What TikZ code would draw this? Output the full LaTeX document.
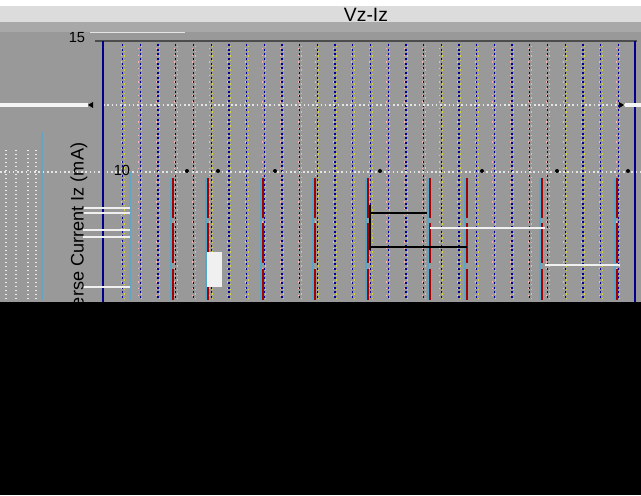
\documentclass[tikz,border=0pt]{standalone}
\usepackage{fontspec}
\setmainfont{Liberation Sans}
\definecolor{barlight}{HTML}{DCDCDC}
\definecolor{barmid}{HTML}{A8A8A8}
\definecolor{panelgray}{HTML}{999999}
\tikzset{
  gridline/.style = {blue!60!black, line width=1pt, dash pattern=on 1.5pt off 2pt},
  gridglow/.style = {yellow!70!gray, line width=0.7pt, dash pattern=on 1pt off 2.5pt},
  gridpink/.style = {red!30!white, line width=0.7pt, dash pattern=on 1pt off 4pt},
  frameline/.style = {blue!55!black, line width=0.9pt},
  marker/.style = {red!65!black, line width=1.4pt, dash pattern=on 30pt off 4pt},
  glitch/.style = {white!88!gray, line width=1.2pt},
  ticklabel/.style = {font=\fontsize{11}{12}\selectfont, inner sep=0pt}
}

\begin{document}
\begin{tikzpicture}[x=0.75pt,y=-0.75pt]
  \useasboundingbox (0,0) rectangle (641,495);
  % window bands
  \fill[white] (0,0) rectangle (641,6);
  \fill[barlight] (0,6) rectangle (641,22);
  \fill[barmid] (0,22) rectangle (641,32);
  \fill[panelgray] (0,32) rectangle (641,302);
  \draw[white!80!gray] (90,32) -- (185,32);
  \node[font=\fontsize{14.5}{16}\selectfont, inner sep=0pt] (title) at (366,15) {Vz-Iz};
  % grid
  \foreach \k in {1,...,29} {
    \draw[gridline] ({105+17.7*\k},44) -- ({105+17.7*\k},300);
    \draw[gridglow] ({106.5+17.7*\k},46) -- ({106.5+17.7*\k},300);
    \draw[gridpink] ({103.5+17.7*\k},48) -- ({103.5+17.7*\k},300);
  }
  \foreach \x in {6,16,28,36}
    \draw[white!85!gray, dotted, line width=1pt] (\x,150) -- (\x,300);
  \draw[white!80!gray, dotted, line width=1.2pt] (103,105) -- (635,105);
  \draw[white!80!gray, dotted, line width=1.2pt] (0,172) -- (641,172);
  % frame
  \draw[black!70, line width=1pt] (95,41) -- (637,41);
  \draw[frameline] (103,41) -- (103,302);
  \draw[frameline] (635,41) -- (635,302);
  \fill[white!92!gray] (0,103) rectangle (88,107);
  \fill[white!92!gray] (625,103) rectangle (641,107);
  \fill[black] (88,105) -- (93,102) -- (93,108) -- cycle;
  \fill[black] (624,105) -- (619,102) -- (619,108) -- cycle;
  \node[ticklabel] (t15) at (77,38) {15};
  \node[ticklabel] (t10) at (122,170) {10};
  \foreach \x in {187,218,275,380,482,557,628}
    \fill[black] (\x,171) circle (1.5pt);
  % lower part
  \draw[cyan!50!gray, line width=1pt] (42,132) -- (42,300);
  \draw[cyan!50!gray, line width=1pt] (130,172) -- (130,300);
  \foreach \y in {208,213,230,237,287}
    \draw[glitch] (83,\y) -- (130,\y);
  \foreach \x in {173,208,263,315,368,430,467,542,617} {
    \draw[cyan!60!gray, line width=0.8pt] ({\x-2},178) -- ({\x-2},300);
    \draw[marker] (\x,178) -- (\x,300);
  }
  \fill[white!88!gray] (207,252) rectangle (222,287);
  \draw[black, line width=1.2pt] (370,213) -- (427,213);
  \draw[black, line width=1.2pt] (370,247) -- (467,247);
  \draw[black, line width=1.2pt] (370,205) -- (370,250);
  \draw[glitch] (430,228) -- (545,228);
  \draw[glitch] (545,265) -- (620,265);
  \node[rotate=90, font=\fontsize{13.6}{15}\selectfont, inner sep=0pt] (ylabel) at (79,241) {Reverse Current Iz (mA)};
  % lost region
  \fill[black] (0,302) rectangle (641,495);
\end{tikzpicture}
\end{document}
